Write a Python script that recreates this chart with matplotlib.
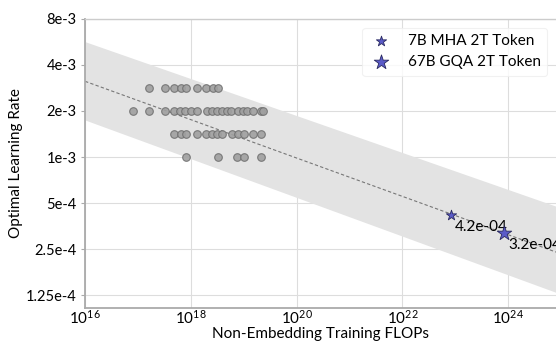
import matplotlib
matplotlib.use('Agg')
import matplotlib.pyplot as plt
import numpy as np

plt.rcParams['font.family'] = ['Lato', 'DejaVu Sans']
plt.rcParams['mathtext.fontset'] = 'custom'
plt.rcParams['mathtext.rm'] = 'Lato'
plt.rcParams['mathtext.it'] = 'Lato:italic'

# grid search points (compute budget, learning rate)
row_28 = [1.64e17, 3.2e17, 4.8e17, 6.5e17, 8.0e17, 1.3e18, 1.95e18, 2.6e18, 3.2e18]
row_20 = [8.2e16, 1.64e17, 3.2e17, 4.8e17, 6.3e17, 7.8e17, 1.0e18, 1.3e18, 2.0e18, 2.5e18,
          3.1e18, 3.8e18, 4.8e18, 5.8e18, 7.9e18, 9.8e18, 1.15e19, 1.5e19, 2.1e19, 2.3e19]
row_14 = [4.8e17, 6.5e17, 8.0e17, 1.3e18, 1.95e18, 2.5e18, 3.1e18, 3.8e18, 5.9e18, 7.9e18,
          1.0e19, 1.5e19, 2.1e19]
row_10 = [8.2e17, 3.2e18, 7.6e18, 1.0e19, 2.1e19]
lr_rows = [2.83e-3, 2e-3, 1.41e-3, 1e-3]

# fitted line and band edges (endpoints)
line_x = [1e16, 8e24]
fit_y = [3.12e-3, 2.40e-4]
band_upper = [5.66e-3, 4.78e-4]
band_lower = [1.745e-3, 1.31e-4]

# large models
flops_7b, lr_7b = 8.2e22, 4.2e-4
flops_67b, lr_67b = 8.5e23, 3.2e-4

yticks = [8e-3, 4e-3, 2e-3, 1e-3, 5e-4, 2.5e-4, 1.25e-4]
ytick_labels = ['8e-3', '4e-3', '2e-3', '1e-3', '5e-4', '2.5e-4', '1.25e-4']
xticks = [1e16, 1e18, 1e20, 1e22, 1e24]

fig = plt.figure(figsize=(5.56, 3.45), dpi=100)
ax = fig.add_axes([0.153, 0.108, 0.847, 0.838])

ax.fill_between(line_x, band_lower, band_upper, color='#e3e3e3', lw=0, zorder=1)
ax.plot(line_x, fit_y, ls=(0, (3, 2)), color='#777777', lw=0.8, zorder=2)

for xs, lr in zip([row_28, row_20, row_14, row_10], lr_rows):
    ax.scatter(xs, [lr] * len(xs), s=30, color='#a0a0a0', edgecolor='#707070',
               linewidth=0.8, alpha=0.9, zorder=3)

ax.scatter([flops_7b], [lr_7b], marker='*', s=60, color='#5a5ac8', edgecolor='#2a2a60',
           linewidth=0.6, zorder=4, label='7B MHA 2T Token')
ax.scatter([flops_67b], [lr_67b], marker='*', s=120, color='#5a5ac8', edgecolor='#2a2a60',
           linewidth=0.6, zorder=4, label='67B GQA 2T Token')
ax.annotate(f'{lr_7b:.1e}', (flops_7b, lr_7b), xytext=(3, -9), textcoords='offset points',
            fontsize=11, va='center', ha='left')
ax.annotate(f'{lr_67b:.1e}', (flops_67b, lr_67b), xytext=(3, -9), textcoords='offset points',
            fontsize=11, va='center', ha='left')

ax.set_xscale('log')
ax.set_yscale('log')
ax.set_xlim(1e16, 8e24)
ax.set_ylim(1.04e-4, 8e-3)
ax.set_xticks(xticks)
ax.set_xticklabels([r'$10^{%d}$' % int(np.log10(v)) for v in xticks])
ax.set_yticks(yticks)
ax.set_yticklabels(ytick_labels)
ax.minorticks_off()
ax.tick_params(axis='x', length=0, labelsize=11, pad=1)
ax.tick_params(axis='y', length=3, color='#aaaaaa', labelsize=10.5, pad=3)
ax.grid(True, color='#dddddd', lw=0.8, zorder=0)
ax.set_axisbelow(True)

ax.spines['right'].set_visible(False)
ax.spines['top'].set_color('#cccccc')
ax.spines['top'].set_linewidth(1.0)
for s in ['left', 'bottom']:
    ax.spines[s].set_color('#aaaaaa')
    ax.spines[s].set_linewidth(1.3)

ax.set_xlabel('Non-Embedding Training FLOPs', fontsize=11, labelpad=0)
ax.set_ylabel('Optimal Learning Rate', fontsize=11, labelpad=2)

leg = ax.legend(loc='upper right', fontsize=11, frameon=True, borderpad=0.4,
                handletextpad=1.0, handlelength=1.6, bbox_to_anchor=(0.998, 0.995))
leg.get_frame().set_edgecolor('#eeeeee')
leg.get_frame().set_linewidth(0.8)

fig.savefig('out.png', dpi=100)
